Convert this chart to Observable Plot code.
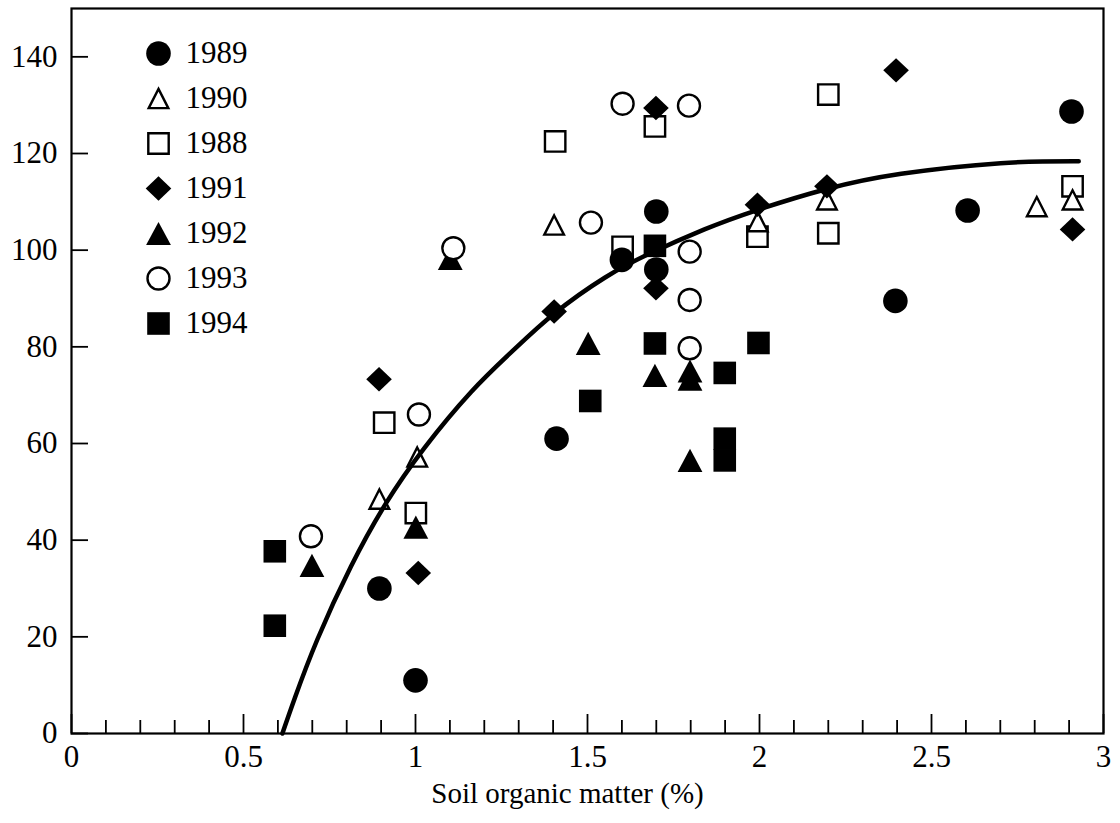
<!DOCTYPE html>
<html><head><meta charset="utf-8">
<script src="https://cdn.jsdelivr.net/npm/d3@7"></script>
<script src="https://cdn.jsdelivr.net/npm/@observablehq/plot@0.6"></script>
<style>
html,body{margin:0;padding:0;background:#fff;}
#wrap{position:relative;width:1120px;height:823px;}
#wrap svg{position:absolute;left:0;top:0;}
</style></head><body><div id="wrap"></div>
<script>
// ---- data ----
const years = ["1989","1990","1988","1991","1992","1993","1994"];

const som1989 = [1.0, 0.895, 1.41, 1.6, 1.7, 1.7, 2.395, 2.605, 2.907];
const yld1989 = [11.0, 30.0, 61.0, 98.0, 108.0, 96.0, 89.5, 108.2, 128.7];

const som1990 = [0.895, 1.005, 1.403, 1.995, 2.196, 2.806, 2.91];
const yld1990 = [48.5, 57.2, 105.2, 105.9, 110.4, 109.0, 110.4];

const som1988 = [0.909, 1.001, 1.406, 1.602, 1.696, 1.994, 2.2, 2.2, 2.91];
const yld1988 = [64.3, 45.6, 122.5, 100.7, 125.6, 102.8, 132.2, 103.5, 113.2];

const som1991 = [0.894, 1.008, 1.403, 1.699, 1.699, 1.994, 2.196, 2.397, 2.91];
const yld1991 = [73.3, 33.2, 87.3, 129.4, 92.1, 109.4, 113.2, 137.2, 104.3];

const som1992 = [0.699, 1.001, 1.101, 1.502, 1.696, 1.798, 1.798, 1.798];
const yld1992 = [34.8, 42.7, 98.3, 80.7, 74.1, 75.0, 73.3, 56.5];

const som1993 = [0.696, 1.01, 1.11, 1.51, 1.602, 1.795, 1.797, 1.797, 1.797];
const yld1993 = [40.8, 66.0, 100.4, 105.7, 130.3, 129.9, 99.7, 89.7, 79.7];

const som1994 = [0.591, 0.591, 1.508, 1.696, 1.696, 1.899, 1.997, 1.899, 1.899];
const yld1994 = [37.7, 22.3, 68.8, 100.9, 80.7, 74.6, 80.8, 61.0, 56.5];

// fitted response curve
const curveX = [0.613, 0.65, 0.715, 0.812, 0.914, 1.025, 1.161, 1.28, 1.402, 1.55, 1.684, 1.84, 1.989, 2.193, 2.412, 2.701, 2.928];
const curveY = [0, 7.5, 19.5, 34.5, 47.6, 59.0, 70.6, 79.0, 86.8, 94.3, 99.4, 104.3, 108.2, 112.6, 115.8, 118.0, 118.4];

const xTickValues = [0, 0.5, 1, 1.5, 2, 2.5, 3];
const xTickLabels = ["0", "0.5", "1", "1.5", "2", "2.5", "3"];
const xMinorTicks = [0.1,0.2,0.3,0.4,0.6,0.7,0.8,0.9,1.1,1.2,1.3,1.4,1.6,1.7,1.8,1.9,2.1,2.2,2.3,2.4,2.6,2.7,2.8,2.9];
const yTickValues = [0, 20, 40, 60, 80, 100, 120, 140];
const xLabel = "Soil organic matter (%)";

// ---- symbols ----
const symCircle = R => ({draw(c){c.moveTo(R,0); c.arc(0,0,R,0,2*Math.PI); c.closePath();}});
const symSquare = h => ({draw(c){c.moveTo(-h,-h); c.lineTo(h,-h); c.lineTo(h,h); c.lineTo(-h,h); c.closePath();}});
const symTri = (w,h) => ({draw(c){c.moveTo(0,-h); c.lineTo(w,h); c.lineTo(-w,h); c.closePath();}});
const symDiamond = (w,h) => ({draw(c){c.moveTo(0,-h); c.lineTo(w,0); c.lineTo(0,h); c.lineTo(-w,0); c.closePath();}});

const styles = {
  "1989": {symbol: symCircle(12.3), fill: "black", stroke: "none"},
  "1990": {symbol: symTri(9.8, 9.6), fill: "white", stroke: "black", strokeWidth: 2.4},
  "1988": {symbol: symSquare(10.2), fill: "white", stroke: "black", strokeWidth: 2.4},
  "1991": {symbol: symDiamond(12.8, 12.2), fill: "black", stroke: "none"},
  "1992": {symbol: symTri(12.4, 11.6), fill: "black", stroke: "none"},
  "1993": {symbol: symCircle(11), fill: "white", stroke: "black", strokeWidth: 2.4},
  "1994": {symbol: symSquare(11.3), fill: "black", stroke: "none"}
};
const seriesData = {
  "1989": som1989.map((x,i)=>({x, y: yld1989[i]})),
  "1990": som1990.map((x,i)=>({x, y: yld1990[i]})),
  "1988": som1988.map((x,i)=>({x, y: yld1988[i]})),
  "1991": som1991.map((x,i)=>({x, y: yld1991[i]})),
  "1992": som1992.map((x,i)=>({x, y: yld1992[i]})),
  "1993": som1993.map((x,i)=>({x, y: yld1993[i]})),
  "1994": som1994.map((x,i)=>({x, y: yld1994[i]}))
};
const curveData = curveX.map((x,i)=>({x, y: curveY[i]}));
const drawOrder = ["1988","1990","1992","1993","1989","1994","1991"];

const W = 1120, H = 823, mT = 8, mB = 90, mL = 71, mR = 17;
const plotH = H - mT - mB, plotW = W - mL - mR;
const font = "'Liberation Serif', 'Times New Roman', serif";

const main = Plot.plot({
  width: W, height: H,
  marginTop: mT, marginBottom: mB, marginLeft: mL, marginRight: mR,
  x: {domain: [0, 3]},
  y: {domain: [0, 150]},
  style: {fontFamily: font, fontSize: "31px", background: "white", color: "black"},
  marks: [
    Plot.axisX({ticks: xTickValues, tickFormat: d => xTickLabels[xTickValues.indexOf(d)], tickSize: 0, tickPadding: 11, fontSize: 31, fontFamily: font, label: null}),
    Plot.axisY({ticks: yTickValues, tickSize: 0, tickPadding: 14, fontSize: 31, fontFamily: font, label: null}),
    Plot.tickX(xMinorTicks, {x: d=>d, insetTop: plotH - 13, stroke: "black", strokeWidth: 1.8}),
    Plot.tickX(xTickValues, {x: d=>d, insetTop: plotH - 19, stroke: "black", strokeWidth: 1.8}),
    Plot.tickY(yTickValues, {y: d=>d, insetRight: plotW - 17, stroke: "black", strokeWidth: 1.8}),
    ...drawOrder.map(yr => Plot.dot(seriesData[yr], {x: "x", y: "y", r: 10, ...styles[yr]})),
    Plot.line(curveData, {x: "x", y: "y", curve: "natural", stroke: "black", strokeWidth: 4.5}),
    Plot.frame({stroke: "black", strokeWidth: 2.2}),
    Plot.text([xLabel], {text: d=>d, frameAnchor: "bottom", dy: 69, dx: -20, fontSize: 29, fontFamily: font, fill: "black"})
  ]
});

const legend = Plot.plot({
  width: 300, height: 350, margin: 0,
  y: {type: "point", padding: 0, domain: years, range: [51.7, 324], axis: null},
  style: {fontFamily: font, fontSize: "31px", background: "transparent", color: "black", overflow: "visible"},
  marks: [
    ...years.map(yr => Plot.dot([yr], {y: d=>d, frameAnchor: "left", dx: 158, r: 10, ...styles[yr]})),
    Plot.text(years, {y: d=>d, text: d=>d, frameAnchor: "left", dx: 185, textAnchor: "start", fontSize: 31, fontFamily: font, fill: "black"})
  ]
});

const wrap = document.getElementById("wrap");
wrap.appendChild(main);
wrap.appendChild(legend);
</script></body></html>
